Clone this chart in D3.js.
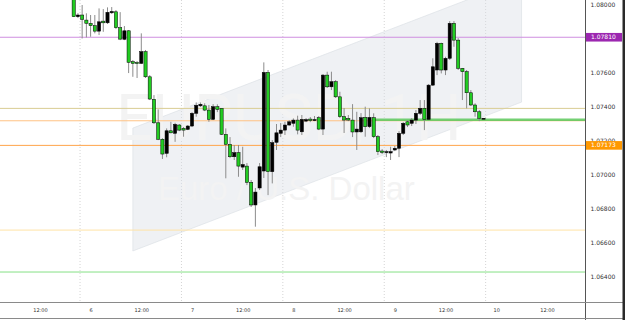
<!DOCTYPE html>
<html><head><meta charset="utf-8">
<script src="https://cdn.jsdelivr.net/npm/d3@7"></script>
<style>body{margin:0;background:#fff;overflow:hidden}svg{display:block}</style>
</head><body>
<svg id="c" width="625" height="320"></svg>
<script>
// ---- data ----
const firstCandle = "2023-06-05T20:00:00Z"; // hourly candles
const openP = [1.08041,1.07931,1.07941,1.07911,1.07892,1.07878,1.07846,1.07905,1.07895,1.07954,
1.07960,1.07866,1.07798,1.07848,1.07666,1.07661,1.07656,1.07725,1.07577,1.07444,
1.07306,1.07209,1.07126,1.07259,1.07244,1.07293,1.07273,1.07267,1.07287,1.07362,
1.07406,1.07406,1.07381,1.07326,1.07401,1.07391,1.07238,1.07179,1.07106,1.07130,
1.07045,1.07051,1.06955,1.06822,1.06922,1.07022,1.07603,1.07018,1.07191,1.07244,
1.07263,1.07293,1.07303,1.07322,1.07253,1.07316,1.07328,1.07319,1.07336,1.07269,
1.07587,1.07518,1.07548,1.07459,1.07342,1.07332,1.07322,1.07252,1.07253,1.07338,
1.07283,1.07336,1.07224,1.07140,1.07131,1.07128,1.07146,1.07156,1.07244,1.07312,
1.07303,1.07322,1.07362,1.07391,1.07326,1.07528,1.07617,1.07774,1.07617,1.07686,
1.07892,1.07793,1.07627,1.07607,1.07483,1.07411,1.07371,1.07331];
const highP = [1.08076,1.07952,1.08000,1.07951,1.07941,1.07941,1.07980,1.07976,1.07986,1.07988,
1.07970,1.07958,1.07876,1.07852,1.07676,1.07670,1.07833,1.07735,1.07587,1.07469,
1.07385,1.07216,1.07273,1.07312,1.07306,1.07299,1.07281,1.07293,1.07369,1.07426,
1.07426,1.07421,1.07411,1.07416,1.07415,1.07393,1.07273,1.07222,1.07175,1.07175,
1.07165,1.07069,1.06969,1.06922,1.07069,1.07662,1.07617,1.07204,1.07299,1.07305,
1.07312,1.07322,1.07332,1.07348,1.07352,1.07334,1.07340,1.07346,1.07346,1.07593,
1.07607,1.07607,1.07558,1.07489,1.07393,1.07352,1.07416,1.07371,1.07363,1.07401,
1.07391,1.07362,1.07234,1.07151,1.07146,1.07165,1.07169,1.07257,1.07310,1.07322,
1.07334,1.07381,1.07440,1.07440,1.07534,1.07686,1.07783,1.07778,1.07695,1.07905,
1.07905,1.07805,1.07629,1.07617,1.07499,1.07421,1.07381,1.07334];
const lowP = [1.07929,1.07923,1.07803,1.07809,1.07813,1.07833,1.07823,1.07842,1.07888,1.07947,
1.07858,1.07793,1.07793,1.07599,1.07577,1.07570,1.07652,1.07570,1.07440,1.07299,
1.07204,1.07093,1.07103,1.07244,1.07194,1.07257,1.07224,1.07263,1.07281,1.07342,
1.07399,1.07375,1.07312,1.07322,1.07369,1.07234,1.06979,1.07098,1.07087,1.06988,
1.07028,1.06939,1.06810,1.06694,1.06910,1.06981,1.06880,1.06949,1.07146,1.07222,
1.07234,1.07287,1.07283,1.07238,1.07234,1.07310,1.07310,1.07316,1.07263,1.07234,
1.07511,1.07499,1.07452,1.07334,1.07246,1.07316,1.07222,1.07146,1.07246,1.07224,
1.07275,1.07216,1.07116,1.07122,1.07104,1.07087,1.07140,1.07104,1.07234,1.07281,
1.07287,1.07299,1.07352,1.07263,1.07322,1.07523,1.07587,1.07597,1.07587,1.07676,
1.07754,1.07617,1.07440,1.07391,1.07405,1.07342,1.07316,1.07328];
const closeP = [1.07931,1.07941,1.07915,1.07892,1.07878,1.07846,1.07901,1.07895,1.07957,1.07962,
1.07866,1.07799,1.07848,1.07662,1.07656,1.07656,1.07725,1.07577,1.07446,1.07306,
1.07209,1.07122,1.07259,1.07247,1.07297,1.07263,1.07263,1.07287,1.07362,1.07409,
1.07415,1.07381,1.07326,1.07401,1.07385,1.07238,1.07179,1.07106,1.07130,1.07051,
1.07060,1.06955,1.06822,1.06898,1.07047,1.07603,1.07018,1.07189,1.07247,1.07263,
1.07293,1.07312,1.07322,1.07263,1.07326,1.07325,1.07319,1.07325,1.07269,1.07587,
1.07518,1.07548,1.07459,1.07342,1.07322,1.07322,1.07252,1.07269,1.07336,1.07283,
1.07338,1.07224,1.07136,1.07131,1.07136,1.07136,1.07156,1.07244,1.07303,1.07293,
1.07322,1.07362,1.07391,1.07326,1.07528,1.07636,1.07774,1.07617,1.07686,1.07892,
1.07793,1.07627,1.07607,1.07483,1.07411,1.07371,1.07332,1.07333];

// visible price ticks (1.07800 sits fully under the 1.07810 label in the reference)
const priceTicks = [1.080, 1.076, 1.074, 1.072, 1.070, 1.068, 1.066, 1.064];
const timeTicks = ["2023-06-05T12:00Z","2023-06-06T00:00Z","2023-06-06T12:00Z","2023-06-07T00:00Z",
  "2023-06-07T12:00Z","2023-06-08T00:00Z","2023-06-08T12:00Z","2023-06-09T00:00Z",
  "2023-06-09T12:00Z","2023-06-10T00:00Z","2023-06-10T12:00Z"];
const timeTickLabels = ["12:00","6","12:00","7","12:00","8","12:00","9","12:00","10","12:00"];
const sessionBreaks = ["2023-06-05T21:30Z","2023-06-06T21:30Z","2023-06-07T21:30Z","2023-06-08T21:30Z","2023-06-09T21:30Z"];

const levelPrices = [1.07810, 1.07391, 1.07318, 1.07173, 1.06674, 1.06427];
const labelledLevels = [1.07810, 1.07173];
const supportZonePrice = 1.07324;
const supportZoneStart = "2023-06-08T19:20Z";
const channelTimes = ["2023-06-06T10:00Z", "2023-06-10T06:00Z"];
const channelUpper = [1.07275, 1.08153];
const channelLower = [1.06551, 1.07428];
const watermarkTitle = "EURUSD, 1H";
const watermarkSub = "Euro / U.S. Dollar";

// ---- styles ----
const levelColors = ["#cf8fe0", "#d9cc92", "#ffc283", "#ffa44a", "#ffe3a6", "#86e086"];
const labelColors = ["#9c27b0", "#ff9800"];

// ---- chart ----
const svg = d3.select("#c");
const W = 625, H = 320, plotR = 585.5, plotB = 302;
const x = d3.scaleUtc().domain([new Date("2023-06-05T12:00:00Z"), new Date("2023-06-10T12:00:00Z")]).range([39.9, 546.9]);
const y = d3.scaleLinear().domain([1.064, 1.08]).range([276.6, 5]);
const t0 = new Date(firstCandle).getTime();
const times = openP.map((_, i) => new Date(t0 + i * 3600e3));

svg.append("rect").attr("width", W).attr("height", H).attr("fill", "#fff");
svg.append("clipPath").attr("id", "clip").append("rect").attr("x", 0).attr("y", 0).attr("width", plotR).attr("height", plotB);
const g = svg.append("g").attr("clip-path", "url(#clip)");

// session separators
g.selectAll("line.sep").data(sessionBreaks).join("line")
  .attr("x1", d => x(new Date(d))).attr("x2", d => x(new Date(d)))
  .attr("y1", 0).attr("y2", plotB)
  .attr("stroke", "#d4d4d4").attr("stroke-width", 1).attr("stroke-dasharray", "1,2");

// channel
const ch = [
  [x(new Date(channelTimes[0])), y(channelUpper[0])],
  [x(new Date(channelTimes[1])), y(channelUpper[1])],
  [x(new Date(channelTimes[1])), y(channelLower[1])],
  [x(new Date(channelTimes[0])), y(channelLower[0])]
];
g.append("path").attr("d", d3.line()(ch) + "Z")
  .attr("fill", "#d9dde4").attr("fill-opacity", 0.42)
  .attr("stroke", "#d9dde3").attr("stroke-width", 0.6);

// watermark
g.append("text").attr("x", 116).attr("y", 140).text(watermarkTitle)
  .attr("font-family", "Roboto").attr("font-size", 64).attr("fill", "#f3f3f3");
g.append("text").attr("x", 158).attr("y", 199.5).text(watermarkSub)
  .attr("font-family", "Liberation Sans").attr("font-size", 33).attr("fill", "#f3f3f3");

// horizontal levels
g.selectAll("line.lvl").data(levelPrices).join("line")
  .attr("x1", 0).attr("x2", plotR)
  .attr("y1", d => y(d)).attr("y2", d => y(d))
  .attr("stroke", (d, i) => levelColors[i]).attr("stroke-width", 1);

// support zone line
g.append("line")
  .attr("x1", x(new Date(supportZoneStart))).attr("x2", plotR)
  .attr("y1", y(supportZonePrice)).attr("y2", y(supportZonePrice))
  .attr("stroke", "#5cc85c").attr("stroke-opacity", 0.85).attr("stroke-width", 2.6);

// candles
const idx = d3.range(openP.length);
g.selectAll("line.wick").data(idx).join("line")
  .attr("x1", i => x(times[i])).attr("x2", i => x(times[i]))
  .attr("y1", i => y(highP[i])).attr("y2", i => y(lowP[i]))
  .attr("stroke", "#8c8c8c").attr("stroke-width", 1);
g.selectAll("rect.body").data(idx).join("rect")
  .attr("x", i => x(times[i]) - 1.6).attr("width", 3.2)
  .attr("y", i => y(Math.max(openP[i], closeP[i])))
  .attr("height", i => Math.max(1, Math.abs(y(openP[i]) - y(closeP[i]))))
  .attr("fill", i => closeP[i] >= openP[i] ? "#000" : "#22cc22")
  .attr("stroke", "#000").attr("stroke-width", 0.5);

// frame
svg.append("line").attr("x1", plotR).attr("x2", plotR).attr("y1", 0).attr("y2", H).attr("stroke", "#555");
svg.append("line").attr("x1", 0).attr("x2", 623).attr("y1", plotB + 0.5).attr("y2", plotB + 0.5).attr("stroke", "#8a8a8a");
svg.append("line").attr("x1", 0).attr("x2", 623).attr("y1", 318.5).attr("y2", 318.5).attr("stroke", "#8a8a8a");
svg.append("rect").attr("x", 622.5).attr("y", 0).attr("width", 2.5).attr("height", H).attr("fill", "#2a2a2a");

// price axis
const ya = svg.append("g").attr("transform", `translate(${plotR},0)`)
  .call(d3.axisRight(y).tickValues(priceTicks).tickFormat(d3.format(".5f")).tickSize(0).tickPadding(5));
ya.select(".domain").remove();
ya.selectAll("text").attr("font-family", "DejaVu Sans").attr("font-size", 6).attr("fill", "#333");

// time axis
const xa = svg.append("g").attr("transform", `translate(0,${plotB})`)
  .call(d3.axisBottom(x).tickValues(timeTicks.map(d => new Date(d)))
    .tickFormat((d, i) => timeTickLabels[i]).tickSize(0).tickPadding(6));
xa.select(".domain").remove();
xa.selectAll("text").attr("font-family", "DejaVu Sans").attr("font-size", 5).attr("fill", "#333");

// level labels
const lab = svg.selectAll("g.lab").data(labelledLevels).join("g")
  .attr("transform", d => `translate(${plotR + 0.5},${y(d)})`);
lab.append("rect").attr("x", 0).attr("y", -4.3).attr("width", 36).attr("height", 8.6)
  .attr("fill", (d, i) => labelColors[i]);
lab.append("text").attr("x", 5).attr("dy", "0.35em").text(d => d3.format(".5f")(d))
  .attr("font-family", "DejaVu Sans").attr("font-size", 6).attr("fill", "#fff");
</script>
</body></html>
